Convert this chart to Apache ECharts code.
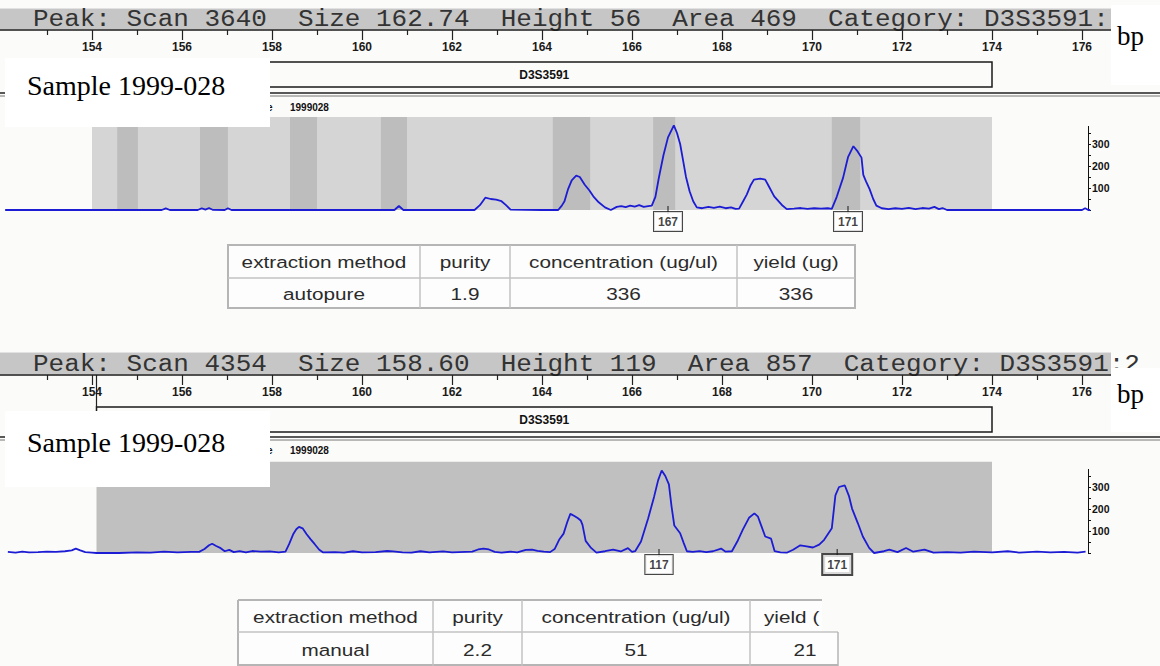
<!DOCTYPE html>
<html>
<head>
<meta charset="utf-8">
<title>D3S3591 electropherograms, sample 1999-028</title>
<script src="https://cdn.jsdelivr.net/npm/echarts@6/dist/echarts.min.js"></script>
<style>
  html, body { margin: 0; padding: 0; background: #fbfbf9; }
  #chart { width: 1160px; height: 666px; }
</style>
</head>
<body>
<div id="chart"></div>
<script>
// ---------------- data ----------------
const rulerTicks = [154, 156, 158, 160, 162, 164, 166, 168, 170, 172, 174, 176];
const rulerMinorTicks = [153, 155, 157, 159, 161, 163, 165, 167, 169, 171, 173, 175, 177];
const signalTicks = [100, 200, 300];
const signalTickMarks = [0, 50, 100, 150, 200, 250, 300, 350];

const locusName = 'D3S3591';
const locusRange = [154.1, 174.0];

const sampleLabel = 'Sample 1999-028';
const sampleFile = '1999028';

// autopure extraction run
const autopureHeader = 'Peak: Scan 3640  Size 162.74  Height 56  Area 469  Category: D3S3591:';
const autopureRange = [154.0, 174.0];
const autopureBins = [
  [154.56, 155.02], [156.40, 157.02], [158.40, 159.00], [160.42, 161.00],
  [164.24, 165.07], [166.47, 166.96], [170.44, 171.07]
];
const autopureTrace = [
  [152.07, 0], [153.0, 0], [154.0, 0], [155.0, 0], [155.55, 0], [155.64, 7], [155.73, 0],
  [156.35, 0], [156.44, 8], [156.52, 2], [156.6, 9], [156.68, 1], [156.95, 0], [157.02, 8], [157.1, 0],
  [158.5, 0], [160.0, 0], [160.72, 0], [160.82, 18], [160.92, 0],
  [162.5, 0], [162.62, 22], [162.74, 56], [162.86, 50], [162.98, 47], [163.1, 40], [163.2, 22], [163.3, 2],
  [164.0, 0], [164.36, 0], [164.44, 20], [164.5, 40], [164.58, 95], [164.66, 135], [164.76, 156],
  [164.84, 150], [164.95, 115], [165.05, 90], [165.14, 62], [165.26, 35], [165.4, 12], [165.53, 0],
  [165.66, 14], [165.76, 18], [165.86, 13], [165.96, 20], [166.06, 15], [166.16, 22], [166.26, 14],
  [166.36, 18], [166.44, 20],
  [166.52, 60], [166.6, 150], [166.7, 250], [166.8, 330], [166.93, 385], [167.0, 350], [167.07, 300],
  [167.14, 220], [167.2, 150], [167.28, 85], [167.36, 40], [167.44, 12],
  [167.56, 8], [167.7, 14], [167.82, 10], [167.95, 15], [168.08, 8], [168.2, 12], [168.3, 5], [168.38, 6],
  [168.47, 40], [168.55, 70], [168.63, 110], [168.71, 138], [168.85, 143], [168.96, 138], [169.04, 108],
  [169.16, 62], [169.33, 23], [169.44, 4],
  [169.6, 6], [169.75, 9], [169.9, 5], [170.05, 8], [170.2, 6], [170.35, 8], [170.44, 5],
  [170.55, 60], [170.69, 146], [170.8, 240], [170.92, 290], [171.0, 270], [171.1, 238], [171.14, 160],
  [171.2, 130], [171.28, 95], [171.36, 50], [171.43, 20],
  [171.55, 8], [171.7, 4], [171.85, 8], [172.0, 5], [172.15, 10], [172.3, 4], [172.45, 9], [172.6, 6],
  [172.72, 14], [172.82, 4], [172.9, 9], [173.0, 0],
  [174.0, 0], [175.0, 0], [176.0, 0], [176.07, 8], [176.14, 0], [176.18, 0]
];
const autopureCalls = [[166.8, 0, '167'], [170.8, 0, '171']];

// manual extraction run
const manualHeader = 'Peak: Scan 4354  Size 158.60  Height 119  Area 857  Category: D3S3591:2';
const manualRange = [154.1, 174.0];
const manualTrace = [
  [152.13, 5], [152.3, 2], [152.45, 6], [152.6, 3], [152.8, 4], [153.0, 6], [153.2, 5], [153.4, 8],
  [153.55, 12], [153.64, 20], [153.74, 12], [153.85, 4], [154.0, 2], [154.1, 0],
  [154.6, 0], [155.0, 3], [155.3, 2], [155.6, 6], [155.9, 3], [156.2, 5], [156.38, 5],
  [156.5, 18], [156.6, 35], [156.67, 42], [156.76, 32], [156.86, 22], [156.95, 8], [157.05, 14],
  [157.15, 4], [157.28, 9], [157.42, 3], [157.56, 9], [157.75, 6], [157.95, 7], [158.15, 3], [158.3, 6],
  [158.38, 40], [158.47, 85], [158.54, 108], [158.6, 119], [158.68, 112], [158.77, 85], [158.86, 62],
  [158.95, 40], [159.05, 15], [159.13, 3],
  [159.4, 4], [159.6, 2], [159.8, 8], [160.0, 3], [160.3, 4], [160.56, 9], [160.69, 7], [160.9, 3],
  [161.1, 2], [161.3, 8], [161.5, 3], [161.8, 7], [162.0, 3], [162.3, 5], [162.45, 6],
  [162.58, 16], [162.7, 20], [162.82, 16], [162.95, 5], [163.1, 2],
  [163.3, 6], [163.45, 3], [163.64, 14], [163.78, 15], [163.9, 10], [164.04, 6], [164.18, 4], [164.28, 18],
  [164.38, 60], [164.48, 88], [164.56, 140], [164.63, 178], [164.72, 168], [164.8, 158], [164.86, 148],
  [164.9, 128], [164.97, 55], [165.09, 23], [165.21, 2],
  [165.4, 8], [165.58, 15], [165.75, 7], [165.91, 22], [166.0, 5],
  [166.07, 8], [166.2, 52], [166.36, 158], [166.49, 255], [166.58, 330], [166.66, 375], [166.74, 350],
  [166.82, 312], [166.88, 210], [166.94, 125], [167.07, 90], [167.15, 45], [167.22, 8],
  [167.35, 5], [167.5, 9], [167.65, 4], [167.8, 8], [167.98, 20], [168.08, 6], [168.22, 8],
  [168.34, 52], [168.46, 105], [168.6, 160], [168.72, 180], [168.8, 165], [168.88, 120], [168.96, 75],
  [169.09, 65], [169.17, 8],
  [169.3, 3], [169.45, 2], [169.58, 15], [169.74, 35], [169.88, 30], [170.02, 25], [170.16, 38], [170.27, 60],
  [170.44, 112], [170.52, 262], [170.6, 300], [170.73, 307], [170.82, 260], [170.89, 202], [171.02, 135],
  [171.13, 75], [171.27, 23], [171.38, 0],
  [171.6, 8], [171.72, 15], [171.9, 4], [172.09, 23], [172.25, 6], [172.5, 15], [172.7, 2], [173.0, 4],
  [173.3, 2], [173.6, 6], [174.0, 3], [174.35, 8], [174.6, 2], [175.0, 6], [175.3, 3], [175.6, 5],
  [175.9, 2], [176.08, 6]
];
const manualCalls = [[166.6, 0, '117'], [170.56, 0, '171']];

// quantification tables
const tableColumns = ['extraction method', 'purity', 'concentration (ug/ul)', 'yield (ug)'];
const autopureRow = ['autopure', '1.9', '336', '336'];
const manualColumns = ['extraction method', 'purity', 'concentration (ug/ul)', 'yield ('];
const manualRow = ['manual', '2.2', '51', '21'];

// ---------------- layout & styles ----------------
const W = 1160;
const PX_PER_BP = 45;
const X_MIN = 154 - 92 / PX_PER_BP;
const X_MAX = 154 + (W - 92) / PX_PER_BP;
const SIGNAL_MAX = 380;
const PX_PER_UNIT = 0.22;
const AXIS_X = 1088;

const MONO = '"Liberation Mono", "Courier New", monospace';
const SERIF = '"Liberation Serif", "Times New Roman", serif';
const SANS = '"Liberation Sans", Arial, sans-serif';
const NARROW = '"Liberation Sans Narrow", "Arial Narrow", "Liberation Sans", sans-serif';
const TRACE_BLUE = '#1c1cd4';

const panels = [
  {
    header: autopureHeader, trace: autopureTrace, range: autopureRange, bins: autopureBins,
    calls: autopureCalls, rangeColor: '#d5d5d5', binColor: '#bdbdbd',
    barTop: 8, rulerY: 30, locusTop: 62, locusBottom: 87, lineY: 93, locusStem: false,
    sampleBox: [5, 58, 265, 69], sampleTextY: 85, fileY: 107, baseline: 210, grayTop: 423,
    bpBox: [1111, 5, 49, 80], bpY: 36, thickCall: -1
  },
  {
    header: manualHeader, trace: manualTrace, range: manualRange, bins: [],
    calls: manualCalls, rangeColor: '#c0c0c0', binColor: '#bdbdbd',
    barTop: 352, rulerY: 375, locusTop: 407, locusBottom: 432, lineY: 437, locusStem: true,
    sampleBox: [5, 411, 265, 76], sampleTextY: 442, fileY: 450, baseline: 553, grayTop: 415,
    bpBox: [1111, 368, 49, 64], bpY: 394, thickCall: 1
  }
];

function textEl(x, y, str, font, opt) {
  opt = opt || {};
  const align = opt.align || 'left';
  return {
    type: 'text', x: x, y: y, z: opt.z == null ? 6 : opt.z,
    scaleX: opt.sx || 1, silent: true,
    style: {
      text: str, font: font, fill: opt.fill || '#222',
      align: align, verticalAlign: 'middle',
      textAlign: align, textVerticalAlign: 'middle'
    }
  };
}
function rectEl(x, y, w, h, style, z) {
  return { type: 'rect', shape: { x: x, y: y, width: w, height: h }, style: style, z: z == null ? 5 : z, silent: true };
}
function lineEl(x1, y1, x2, y2, stroke, width, z) {
  return { type: 'line', shape: { x1: x1, y1: y1, x2: x2, y2: y2 },
           style: { stroke: stroke, lineWidth: width }, z: z == null ? 5 : z, silent: true };
}

function bandRenderer(grayTop, color) {
  return function (params, api) {
    const a = api.coord([api.value(0), grayTop]);
    const b = api.coord([api.value(1), 0]);
    return { type: 'rect', shape: { x: a[0], y: a[1], width: b[0] - a[0], height: b[1] - a[1] },
             style: { fill: color } };
  };
}
function locusRenderer(p) {
  return function (params, api) {
    const x0 = api.coord([api.value(0), 0])[0];
    const x1 = api.coord([api.value(1), 0])[0];
    const children = [
      { type: 'rect', shape: { x: x0, y: p.locusTop, width: x1 - x0, height: p.locusBottom - p.locusTop },
        style: { fill: 'none', stroke: '#1a1a1a', lineWidth: 1.5 } },
      { type: 'text', x: (x0 + x1) / 2, y: (p.locusTop + p.locusBottom) / 2,
        style: { text: locusName, font: 'bold 12px ' + NARROW, fill: '#111',
                 align: 'center', verticalAlign: 'middle', textAlign: 'center', textVerticalAlign: 'middle' } }
    ];
    if (p.locusStem) {
      children.push({ type: 'line', shape: { x1: x0, y1: p.rulerY, x2: x0, y2: p.locusTop },
                      style: { stroke: '#222', lineWidth: 1.2 } });
    }
    return { type: 'group', children: children };
  };
}

const grid = [], xAxis = [], yAxis = [], series = [], graphic = [];

panels.forEach(function (p, i) {
  const gridH = SIGNAL_MAX * PX_PER_UNIT;
  const gridTop = p.baseline - gridH;
  const rulerOffset = gridTop - p.rulerY;
  grid.push({ left: 0, right: 0, top: gridTop, height: gridH });

  xAxis.push({
    gridIndex: i, type: 'value', min: X_MIN, max: X_MAX, position: 'top', offset: rulerOffset, z: 3,
    axisLine: { show: true, onZero: false, lineStyle: { color: '#1a1a1a', width: 1.5 } },
    axisTick: { show: true, inside: true, length: 10, customValues: rulerTicks,
                lineStyle: { color: '#222', width: 1.2 } },
    axisLabel: { show: true, inside: true, margin: 11, customValues: rulerTicks,
                 fontSize: 12, fontWeight: 'bold', fontFamily: NARROW, color: '#1a1a1a' },
    splitLine: { show: false }
  });
  xAxis.push({
    gridIndex: i, type: 'value', min: X_MIN, max: X_MAX, position: 'top', offset: rulerOffset, z: 3,
    axisLine: { show: false, onZero: false },
    axisTick: { show: true, inside: true, length: 5, customValues: rulerMinorTicks,
                lineStyle: { color: '#222', width: 1.2 } },
    axisLabel: { show: false },
    splitLine: { show: false }
  });
  yAxis.push({
    gridIndex: i, type: 'value', min: 0, max: SIGNAL_MAX, position: 'right', offset: AXIS_X - W,
    axisLine: { show: true, onZero: false, lineStyle: { color: '#111', width: 1 } },
    axisTick: { show: true, length: 3, customValues: signalTickMarks, lineStyle: { color: '#111', width: 1 } },
    axisLabel: { show: true, margin: 4, customValues: signalTicks, fontSize: 10.5, fontWeight: 'bold',
                 fontFamily: NARROW, color: '#111' },
    splitLine: { show: false }
  });

  const xi = 2 * i;
  series.push({ type: 'custom', xAxisIndex: xi, yAxisIndex: i, z: 1, silent: true, clip: false,
                data: [p.range], renderItem: bandRenderer(p.grayTop, p.rangeColor) });
  if (p.bins.length) {
    series.push({ type: 'custom', xAxisIndex: xi, yAxisIndex: i, z: 1, silent: true, clip: false,
                  data: p.bins, renderItem: bandRenderer(p.grayTop, p.binColor) });
  }
  series.push({ type: 'custom', xAxisIndex: xi, yAxisIndex: i, z: 2, silent: true, clip: false,
                data: [locusRange], renderItem: locusRenderer(p) });
  series.push({ type: 'line', xAxisIndex: xi, yAxisIndex: i, z: 4, silent: true, clip: false,
                data: p.trace, showSymbol: false, symbol: 'none',
                lineStyle: { color: TRACE_BLUE, width: 1.8 } });
  series.push({
    type: 'scatter', xAxisIndex: xi, yAxisIndex: i, z: 5, silent: true, clip: false,
    symbol: 'rect', symbolSize: [1.2, 8], itemStyle: { color: '#111' },
    data: p.calls.map(function (c, k) {
      const item = { value: c };
      if (k === p.thickCall) item.label = { borderWidth: 2 };
      return item;
    }),
    label: {
      show: true, position: 'bottom', distance: -2,
      formatter: function (d) { return d.value[2]; },
      fontSize: 12, fontWeight: 'bold', fontFamily: NARROW, color: '#111',
      backgroundColor: '#ffffff', borderColor: '#1a1a1a', borderWidth: 1, padding: [4, 4, 3, 4]
    }
  });

  // status bar above the ruler
  graphic.push(rectEl(0, p.barTop, 1111, p.rulerY - p.barTop - 0.8, { fill: '#c6c6c6' }, 0));
  graphic.push(lineEl(0, p.barTop + 0.5, 1111, p.barTop + 0.5, '#e2e2e2', 1, 0));
  graphic.push(textEl(33, (p.barTop + p.rulerY) / 2 + 1, p.header, '23px ' + MONO,
                      { sx: 1.13, fill: '#333', z: 1 }));
  // separator under the locus box
  graphic.push(lineEl(0, p.lineY, W, p.lineY, '#222', 1.5, 3));
  graphic.push(lineEl(0, p.lineY + 3, W, p.lineY + 3, '#777', 1, 3));
  // sample file name
  graphic.push(textEl(267, p.fileY, 'e', 'bold 10px ' + NARROW, { fill: '#111', z: 3 }));
  graphic.push(textEl(290, p.fileY, sampleFile, 'bold 10px ' + NARROW, { fill: '#111', z: 3 }));
  // white label boxes
  const sb = p.sampleBox;
  graphic.push(rectEl(sb[0], sb[1], sb[2], sb[3], { fill: '#ffffff' }, 20));
  graphic.push(textEl(27, p.sampleTextY, sampleLabel, '28px ' + SERIF, { fill: '#000', z: 21 }));
  const bb = p.bpBox;
  graphic.push(rectEl(bb[0], bb[1], bb[2], bb[3], { fill: '#ffffff' }, 20));
  graphic.push(textEl(1117, p.bpY, 'bp', '27px ' + SERIF, { fill: '#000', z: 21 }));
});

// ---------------- tables ----------------
const TABLE_FONT = '17px ' + SANS;
const CELL_LINE = '#c2c2c2';

function tableCells(cols, rows, texts) {
  const els = [];
  texts.forEach(function (row, r) {
    const cy = (rows[r] + rows[r + 1]) / 2 + 1;
    row.forEach(function (t, c) {
      els.push(textEl((cols[c] + cols[c + 1]) / 2, cy, t, TABLE_FONT,
                      { align: 'center', sx: 1.22, fill: '#2b2b2b' }));
    });
  });
  return els;
}

// autopure table
(function () {
  const cols = [228, 420, 510, 737, 855];
  const rows = [245, 278, 308];
  graphic.push(rectEl(cols[0], rows[0], cols[4] - cols[0], rows[2] - rows[0],
                      { fill: '#fdfdfd', stroke: '#b5b5b5', lineWidth: 2 }, 4));
  graphic.push(lineEl(cols[0], rows[1], cols[4], rows[1], CELL_LINE, 1.5));
  for (let c = 1; c < cols.length - 1; c++) {
    graphic.push(lineEl(cols[c], rows[0], cols[c], rows[2], CELL_LINE, 1.5));
  }
  Array.prototype.push.apply(graphic, tableCells(cols, rows, [tableColumns, autopureRow]));
})();

// manual table (its right edge runs off the panel)
(function () {
  const cols = [238, 433, 522, 750, 860];
  const rows = [600, 632, 666];
  graphic.push(rectEl(238, 600, 584, 66, { fill: '#fdfdfd' }, 4));
  graphic.push(rectEl(822, 632, 16, 34, { fill: '#fdfdfd' }, 4));
  graphic.push(lineEl(238, 600, 822, 600, '#b5b5b5', 2));
  graphic.push(lineEl(238, 600, 238, 666, '#b5b5b5', 2));
  graphic.push(lineEl(238, 665, 838, 665, '#b5b5b5', 2));
  graphic.push(lineEl(238, 632, 838, 632, CELL_LINE, 1.5));
  graphic.push(lineEl(838, 632, 838, 666, '#b5b5b5', 1.5));
  for (let c = 1; c < cols.length - 1; c++) {
    graphic.push(lineEl(cols[c], 600, cols[c], 666, CELL_LINE, 1.5));
  }
  const cells = tableCells(cols, rows, [manualColumns.slice(0, 3), manualRow]);
  Array.prototype.push.apply(graphic, cells);
  graphic.push(textEl(764, (rows[0] + rows[1]) / 2 + 1, manualColumns[3], TABLE_FONT,
                      { align: 'left', sx: 1.22, fill: '#2b2b2b' }));
})();

const chart = echarts.init(document.getElementById('chart'), null, { renderer: 'svg' });
chart.setOption({
  animation: false,
  backgroundColor: '#fbfbf9',
  grid: grid,
  xAxis: xAxis,
  yAxis: yAxis,
  series: series,
  graphic: { elements: graphic }
});
</script>
</body>
</html>
